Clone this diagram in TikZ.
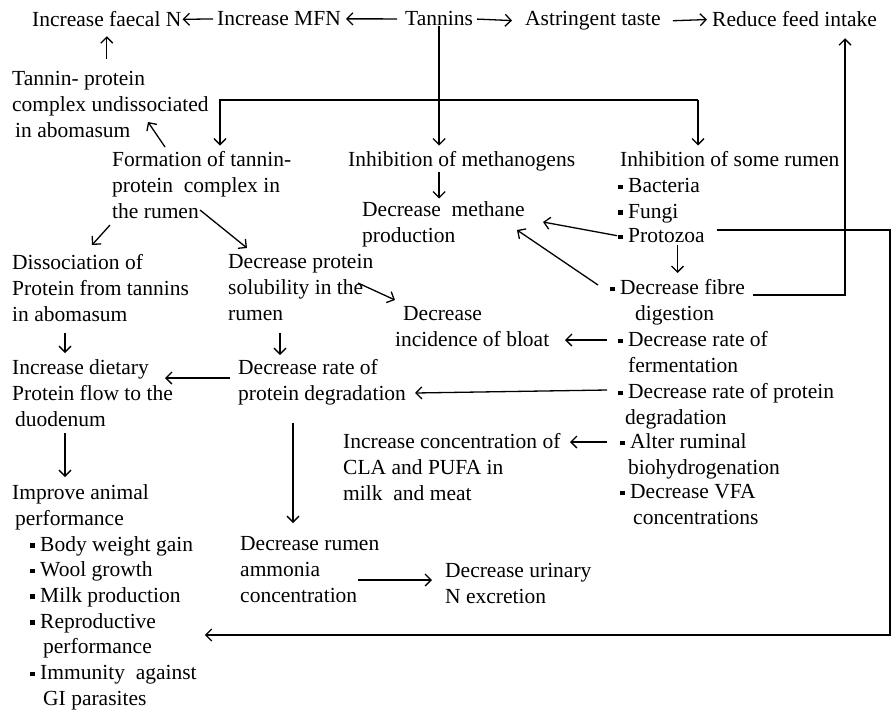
\documentclass[tikz,border=0pt]{standalone}
\usepackage{fontspec}
\setmainfont{Liberation Serif}
\usetikzlibrary{arrows.meta}
\newcommand\bul{\raisebox{3.5pt}{\rule{4.5pt}{4.5pt}}\hspace{5.5pt}}
\newcommand\fs{\fontsize{21.5}{25.7}\selectfont}
\begin{document}
\begin{tikzpicture}[x=1pt,y=-1pt,
  lbl/.style={anchor=north west,inner sep=0pt,align=left,font=\fs},
  arr/.style={line width=1.3pt,-{Straight Barb[length=6pt,width=12pt]}},
  ln/.style={line width=1.3pt}]
\useasboundingbox[fill=white] (0,0) rectangle (893,713);
% nodes
\node[lbl] (faecal) at (32,11.5) {Increase faecal N};
\node[lbl] (mfn) at (217,11.5) {Increase MFN};
\node[lbl] (tannins) at (405,11.5) {Tannins};
\node[lbl] (astr) at (525,11.5) {Astringent taste};
\node[lbl] (reduce) at (712,11.5) {Reduce feed intake};
\node[lbl] (undiss) at (12,71.5) {Tannin- protein\\complex undissociated\\\hspace*{3pt}in abomasum};
\node[lbl] (formation) at (112,151.5) {Formation of tannin-\\protein\ \ complex in\\the rumen};
\node[lbl] (inhmeth) at (348,151.5) {Inhibition of methanogens};
\node[lbl] (inhrum) at (620,151.5) {Inhibition of some rumen\\\hspace*{-2pt}\bul Bacteria\\\hspace*{-2pt}\bul Fungi};
\node[lbl] (protozoa) at (618,228.5) {\bul Protozoa};
\node[lbl] (methane) at (362,201.5) {Decrease\ \ methane\\production};
\node[lbl] (dissoc) at (12,254.5) {Dissociation of\\Protein from tannins\\in abomasum};
\node[lbl] (solub) at (228,254.5) {Decrease protein\\solubility in the\\rumen};
\node[lbl] (fibre) at (610,279.5) {\bul Decrease fibre\\\hspace*{25pt}digestion};
\node[lbl] (bloat) at (395,306.5) {\hspace*{8pt}Decrease\\incidence of bloat};
\node[lbl] (ferm) at (618,331.5) {\bul Decrease rate of\\\hspace*{10pt}fermentation};
\node[lbl] (dietary) at (12,359.5) {Increase dietary\\Protein flow to the\\\hspace*{3pt}duodenum};
\node[lbl] (degr) at (238,359.5) {Decrease rate of\\protein degradation};
\node[lbl] (protdeg) at (618,383.5) {\bul Decrease rate of protein\\\hspace*{7pt}degradation};
\node[lbl] (cla) at (343,433.5) {Increase concentration of\\CLA and PUFA in\\milk\ \ and meat};
\node[lbl] (alter) at (620,433.5) {\bul Alter ruminal\\\hspace*{8pt}biohydrogenation};
\node[lbl] (vfa) at (620,484.5) {\bul Decrease VFA\\\hspace*{13pt}concentrations};
\node[lbl] (perf) at (12,484.5) {Improve animal\\\hspace*{3pt}performance\\
  \hspace*{18pt}\bul Body weight gain\\
  \hspace*{18pt}\bul Wool growth\\
  \hspace*{18pt}\bul Milk production\\
  \hspace*{18pt}\bul Reproductive\\
  \hspace*{31pt}performance\\
  \hspace*{18pt}\bul Immunity\ \ against\\
  \hspace*{31pt}GI parasites};
\node[lbl] (ammonia) at (240,536.5) {Decrease rumen\\ammonia\\concentration};
\node[lbl] (urinary) at (445,563.5) {Decrease urinary\\N excretion};
% coordinates
\coordinate (bl) at (220,100);
\coordinate (br) at (698,100);
\coordinate (fr) at (845,295);
\coordinate (pr) at (890,230);
\coordinate (pb) at (890,635);
% top row
\draw[arr,shorten <=4pt,shorten >=1pt] (mfn.west) -- (faecal.east);
\draw[arr,shorten <=8pt,shorten >=5pt] (tannins.west) -- (mfn.east);
\draw[arr,shorten <=4pt,shorten >=13pt] (tannins.east) -- (astr.west);
\draw[arr,shorten <=12pt,shorten >=5pt] (astr.east) -- (reduce.west);
\draw[arr,shorten <=13pt,shorten >=9pt] (undiss.north -| faecal.south) -- (faecal.south);
\draw[arr] ([shift={(53,-4.5)}]formation.north west) -- ([shift={(136,50.5)}]undiss.north west);
% tannins branches
\draw[arr,shorten >=6pt] (tannins.south) -- (tannins.south |- inhmeth.north);
\draw[arr,shorten >=6pt] (br) -- (bl) -- (bl |- formation.north);
\draw[arr,shorten >=6pt] (br) -- (br |- inhrum.north);
\draw[arr,shorten >=3pt] (inhmeth.south -| tannins.south) -- (tannins.south |- methane.north);
% rumen microbes
\draw[arr,shorten <=1pt] (protozoa.west) -- ([shift={(181,20.5)}]methane.north west);
\draw[arr] ([shift={(-12,5.5)}]fibre.north west) -- ([shift={(155,28.5)}]methane.north west);
\draw[arr,shorten <=2pt,shorten >=6.5pt] (protozoa.south -| fibre.north) -- (fibre.north);
\draw[arr,shorten >=11pt] ([shift={(143,15.5)}]fibre.north west) -- (fr) -- (fr |- reduce.south);
\draw[arr,shorten >=8pt] ([shift={(99,1.5)}]protozoa.north west) -- (pr) -- (pb) -- (pb -| perf.east);
% left side
\draw[arr] ([shift={(-2,73.5)}]formation.north west) -- ([shift={(80,-9.5)}]dissoc.north west);
\draw[arr] ([shift={(88,58.5)}]formation.north west) -- ([shift={(19,-6.5)}]solub.north west);
\draw[arr] ([shift={(130,28.5)}]solub.north west) -- ([shift={(0,-6.5)}]bloat.north west);
\draw[arr] ([shift={(52,78.5)}]solub.north west) -- ([shift={(42,-4.5)}]degr.north west);
\draw[arr] ([shift={(53,78.5)}]dissoc.north west) -- ([shift={(53,-6.5)}]dietary.north west);
\draw[arr] ([shift={(-8,18.5)}]degr.north west) -- ([shift={(153,18.5)}]dietary.north west);
\draw[arr] ([shift={(-11,6.5)}]protdeg.north west) -- ([shift={(177,33.5)}]degr.north west);
\draw[arr] ([shift={(-11,8.5)}]ferm.north west) -- ([shift={(170,33.5)}]bloat.north west);
\draw[arr] ([shift={(-13,8.5)}]alter.north west) -- ([shift={(227,8.5)}]cla.north west);
\draw[arr] ([shift={(53,73.5)}]dietary.north west) -- ([shift={(53,-7.5)}]perf.north west);
\draw[arr] ([shift={(55,63.5)}]degr.north west) -- ([shift={(53,-13.5)}]ammonia.north west);
\draw[arr] ([shift={(118,43.5)}]ammonia.north west) -- ([shift={(-13,16.5)}]urinary.north west);
\end{tikzpicture}
\end{document}
